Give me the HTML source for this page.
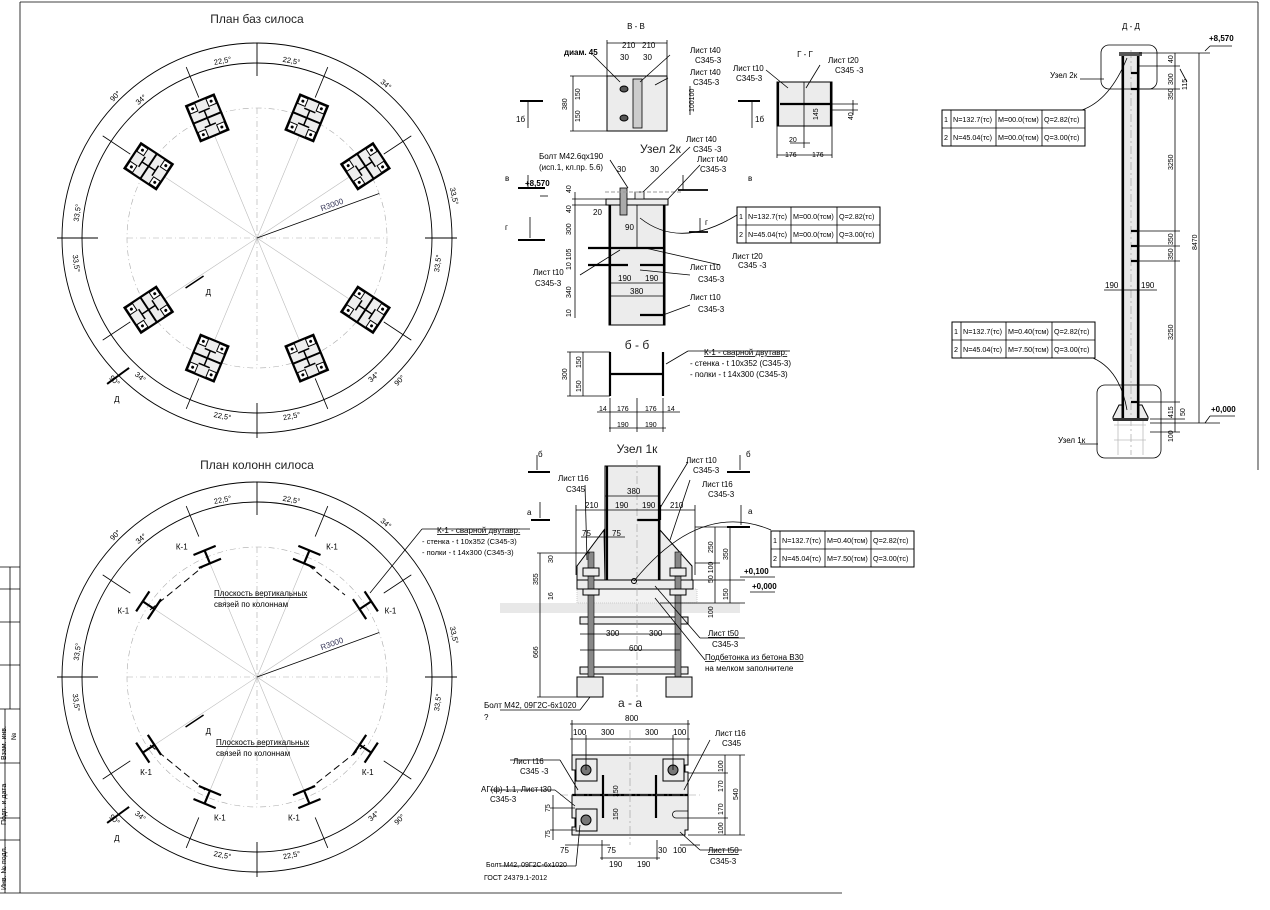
<!DOCTYPE html>
<html><head><meta charset="utf-8">
<style>
html,body{margin:0;padding:0;background:#fff;}
svg{display:block;font-family:"Liberation Sans","DejaVu Sans",sans-serif;}
.t{font-size:8px;fill:#000}
.s{font-size:7px;fill:#000}
.ti{font-size:12px;fill:#222}
.ln{stroke:#000;stroke-width:0.8;fill:none}
.tk{stroke:#000;stroke-width:2.2;fill:none}
.dd{stroke:#999;stroke-width:0.6;fill:none;stroke-dasharray:8 3 2 3}
.pl{fill:#ececec;stroke:#000;stroke-width:1}
</style></head><body>
<svg id="s" width="1270" height="910" viewBox="0 0 1270 910" xmlns="http://www.w3.org/2000/svg">
<line class="ln" x1="20" y1="2" x2="1258" y2="2"/>
<line class="ln" x1="1258" y1="2" x2="1258" y2="470"/>
<line class="ln" x1="20" y1="2" x2="20" y2="893" stroke-width="1.2"/>
<line class="ln" x1="0" y1="893" x2="842" y2="893" stroke-width="1.2"/>
<g class="ln">
<line x1="0" y1="567" x2="20" y2="567"/><line x1="0" y1="589" x2="20" y2="589"/>
<line x1="0" y1="622" x2="20" y2="622"/><line x1="0" y1="665" x2="20" y2="665"/>
<line x1="0" y1="709" x2="20" y2="709"/><line x1="0" y1="763" x2="20" y2="763"/>
<line x1="0" y1="818" x2="20" y2="818"/><line x1="0" y1="840" x2="20" y2="840"/>
<line x1="10" y1="567" x2="10" y2="709"/><line x1="5" y1="709" x2="5" y2="893"/>
</g>
<text class="s" transform="translate(6,760) rotate(-90)">Взам. инв.</text>
<text class="s" transform="translate(16,740) rotate(-90)">№</text>
<text class="s" transform="translate(6,825) rotate(-90)">Подп. и дата</text>
<text class="s" transform="translate(6,890) rotate(-90)">Инв. № подл.</text>

<text class="ti" x="257" y="23" text-anchor="middle">План баз силоса</text>
<text class="ti" x="257" y="469" text-anchor="middle">План колонн силоса</text>
<g id="plans"></g>

<text class="t" x="636" y="29" text-anchor="middle" font-size="10">В - В</text>
<rect class="pl" x="607" y="76" width="60" height="55"/>
<rect x="633" y="79" width="9" height="49" fill="#ccc" stroke="#000" stroke-width="0.8"/>
<ellipse cx="624" cy="89" rx="4" ry="3" fill="#555" stroke="#000"/>
<ellipse cx="624" cy="118" rx="4" ry="3" fill="#555" stroke="#000"/>
<g class="ln"><line x1="607" y1="43" x2="667" y2="43"/><line x1="607" y1="40" x2="607" y2="76"/><line x1="667" y1="40" x2="667" y2="76"/>
<line x1="573" y1="76" x2="573" y2="131"/><line x1="570" y1="76" x2="607" y2="76"/><line x1="570" y1="131" x2="607" y2="131"/>
<line x1="520" y1="101" x2="543" y2="101" stroke-width="2"/><line x1="528" y1="102" x2="528" y2="128"/>
<line x1="738" y1="101" x2="760" y2="101" stroke-width="2"/><line x1="752" y1="102" x2="752" y2="128"/>
<line x1="593" y1="55" x2="620" y2="82"/><line x1="670" y1="55" x2="640" y2="82"/><line x1="668" y1="78" x2="655" y2="85"/>
<line x1="690" y1="86" x2="690" y2="115"/>
</g>
<text class="t" x="622" y="48">210</text><text class="t" x="642" y="48">210</text>
<text class="t" x="620" y="60">30</text><text class="t" x="643" y="60">30</text>
<text class="t" x="564" y="55" font-weight="bold">диам. 45</text>
<text class="t" x="690" y="53">Лист t40</text><text class="t" x="695" y="63">С345-3</text>
<text class="t" x="690" y="75">Лист t40</text><text class="t" x="693" y="85">С345-3</text>
<text class="t" x="516" y="122">1б</text><text class="t" x="755" y="122">1б</text>
<text class="s" transform="translate(567,110) rotate(-90)">380</text>
<text class="s" transform="translate(580,100) rotate(-90)">150</text>
<text class="s" transform="translate(580,122) rotate(-90)">150</text>
<text class="s" transform="translate(694,112) rotate(-90)">100100</text>

<text class="t" x="805" y="57" text-anchor="middle" font-size="10">Г - Г</text>
<rect class="pl" x="777" y="82" width="55" height="44"/>
<line class="tk" x1="778" y1="82" x2="778" y2="126"/><line class="tk" x1="831" y1="82" x2="831" y2="126"/>
<line class="ln" x1="804" y1="82" x2="804" y2="126"/><line class="tk" x1="780" y1="104" x2="830" y2="104" stroke-width="1.5"/>
<g class="ln"><line x1="777" y1="155" x2="832" y2="155"/><line x1="777" y1="126" x2="777" y2="158"/><line x1="832" y1="126" x2="832" y2="158"/>
<line x1="804" y1="126" x2="804" y2="148"/><line x1="790" y1="143" x2="810" y2="143"/>
<line x1="832" y1="104" x2="858" y2="104"/><line x1="832" y1="110" x2="858" y2="110"/><line x1="853" y1="100" x2="853" y2="115"/>
<line x1="766" y1="70" x2="788" y2="88"/><line x1="820" y1="65" x2="806" y2="88"/></g>
<text class="t" x="733" y="71">Лист t10</text><text class="t" x="736" y="81">С345-3</text>
<text class="t" x="828" y="63">Лист t20</text><text class="t" x="835" y="73">С345 -3</text>
<text class="s" x="789" y="142">20</text><text class="s" x="785" y="157">176</text><text class="s" x="812" y="157">176</text>
<text class="s" transform="translate(818,120) rotate(-90)">145</text><text class="s" transform="translate(853,120) rotate(-90)">40</text>

<text class="ti" x="640" y="153" font-size="12">Узел 2к</text>
<rect class="pl" x="606" y="199" width="62" height="6"/>
<rect class="pl" x="609" y="205" width="56" height="120"/>
<line class="tk" x1="610" y1="205" x2="610" y2="325"/><line class="tk" x1="664" y1="205" x2="664" y2="325"/>
<line class="ln" x1="637" y1="205" x2="637" y2="248"/>
<line class="tk" x1="588" y1="248" x2="664" y2="248"/>
<line class="tk" x1="588" y1="265" x2="628" y2="265"/><line class="tk" x1="640" y1="265" x2="664" y2="265"/>
<line class="tk" x1="640" y1="315" x2="664" y2="315" stroke-width="1.8"/>
<rect x="620" y="188" width="7" height="27" fill="#aaa" stroke="#000" stroke-width="0.8"/>
<rect x="635" y="192" width="9" height="7" fill="#eee" stroke="#000" stroke-width="0.8"/>
<line x1="605" y1="192" x2="683" y2="192" stroke="#999" stroke-dasharray="4 2"/>
<g class="ln"><line x1="575" y1="192" x2="575" y2="318"/><line x1="572" y1="199" x2="606" y2="199"/><line x1="572" y1="205" x2="606" y2="205"/>
<line x1="609" y1="283" x2="664" y2="283"/><line x1="609" y1="296" x2="664" y2="296"/>
<line x1="540" y1="196" x2="548" y2="196"/>
<line x1="683" y1="175" x2="683" y2="190"/><line x1="678" y1="190" x2="708" y2="190" stroke-width="1.8"/>
<line x1="689" y1="232" x2="708" y2="232" stroke-width="1.8"/><line x1="700" y1="218" x2="700" y2="232"/>
<path d="M640 218 Q680 250 737 215"/>
<line x1="610" y1="160" x2="628" y2="188"/><line x1="690" y1="147" x2="643" y2="192"/><line x1="700" y1="165" x2="668" y2="199"/>
<line x1="580" y1="275" x2="620" y2="250"/><line x1="645" y1="248" x2="720" y2="265"/><line x1="640" y1="270" x2="690" y2="275"/>
<line x1="663" y1="315" x2="690" y2="305"/></g>
<g class="ln"><line x1="528" y1="175" x2="528" y2="188"/><line x1="518" y1="188" x2="545" y2="188" stroke-width="2"/>
<line x1="518" y1="240" x2="545" y2="240" stroke-width="2"/><line x1="530" y1="217" x2="530" y2="238"/></g>
<text class="t" x="539" y="159">Болт М42.6qх190</text><text class="t" x="539" y="170">(исп.1, кл.пр. 5.6)</text>
<text class="t" x="686" y="142">Лист t40</text><text class="t" x="693" y="152">С345 -3</text>
<text class="t" x="697" y="162">Лист t40</text><text class="t" x="700" y="172">С345-3</text>
<text class="t" x="525" y="186" font-weight="bold">+8,570</text>
<text class="t" x="505" y="181">в</text><text class="t" x="748" y="181">в</text>
<text class="t" x="505" y="230">г</text><text class="t" x="705" y="225">г</text>
<text class="t" x="617" y="172">30</text><text class="t" x="650" y="172">30</text>
<text class="t" x="593" y="215">20</text><text class="t" x="625" y="230">90</text>
<text class="t" x="618" y="281">190</text><text class="t" x="645" y="281">190</text><text class="t" x="630" y="294">380</text>
<text class="t" x="732" y="259">Лист t20</text><text class="t" x="738" y="268">С345 -3</text>
<text class="t" x="690" y="270">Лист t10</text><text class="t" x="698" y="282">С345-3</text>
<text class="t" x="533" y="275">Лист t10</text><text class="t" x="535" y="286">С345-3</text>
<text class="t" x="690" y="300">Лист t10</text><text class="t" x="698" y="312">С345-3</text>
<text class="s" transform="translate(571,193) rotate(-90)">40</text><text class="s" transform="translate(571,213) rotate(-90)">40</text>
<text class="s" transform="translate(571,235) rotate(-90)">300</text><text class="s" transform="translate(571,270) rotate(-90)">10 105</text>
<text class="s" transform="translate(571,298) rotate(-90)">340</text><text class="s" transform="translate(571,317) rotate(-90)">10</text>
<g id="t1"></g>

<text class="ti" x="637" y="349" text-anchor="middle">б - б</text>
<line class="tk" x1="610" y1="352" x2="610" y2="396"/><line class="tk" x1="663" y1="352" x2="663" y2="396"/>
<line class="tk" x1="611" y1="374" x2="662" y2="374" stroke-width="1.6"/>
<g class="ln"><line x1="570" y1="352" x2="570" y2="396"/><line x1="583" y1="352" x2="583" y2="396"/>
<line x1="567" y1="352" x2="610" y2="352"/><line x1="567" y1="396" x2="610" y2="396"/>
<line x1="597" y1="412" x2="680" y2="412"/><line x1="609" y1="428" x2="666" y2="428"/>
<line x1="610" y1="398" x2="610" y2="432"/><line x1="663" y1="398" x2="663" y2="432"/><line x1="637" y1="398" x2="637" y2="432"/>
<line x1="688" y1="351" x2="666" y2="364"/><line x1="688" y1="351" x2="790" y2="351"/></g>
<text class="t" x="704" y="355" text-decoration="underline">К-1 - сварной двутавр:</text>
<text class="t" x="690" y="366">- стенка - t 10х352 (С345-3)</text>
<text class="t" x="690" y="377">- полки - t 14х300 (С345-3)</text>
<text class="s" x="599" y="411">14</text><text class="s" x="617" y="411">176</text><text class="s" x="645" y="411">176</text><text class="s" x="667" y="411">14</text>
<text class="s" x="617" y="427">190</text><text class="s" x="645" y="427">190</text>
<text class="s" transform="translate(567,380) rotate(-90)">300</text><text class="s" transform="translate(581,368) rotate(-90)">150</text><text class="s" transform="translate(581,392) rotate(-90)">150</text>

<text class="ti" x="637" y="453" text-anchor="middle">Узел 1к</text>
<rect x="500" y="603" width="240" height="10" fill="#e8e8e8"/>
<rect x="577" y="589" width="120" height="14" fill="#f2f2f2" stroke="#ccc" stroke-dasharray="1 1"/>
<rect class="pl" x="605" y="466" width="55" height="115"/>
<line class="tk" x1="607" y1="466" x2="607" y2="581"/><line class="tk" x1="659" y1="466" x2="659" y2="581"/>
<line class="tk" x1="637" y1="520" x2="660" y2="520" stroke-width="2"/>
<line class="tk" x1="660" y1="505" x2="660" y2="520" stroke-width="1.5"/>
<polygon class="pl" points="577,581 577,566 604,530 605,581"/>
<polygon class="pl" points="660,530 692,566 692,581 660,581"/>
<rect class="pl" x="577" y="580" width="116" height="9"/>
<rect class="pl" x="580" y="617" width="108" height="7"/>
<rect class="pl" x="580" y="667" width="108" height="7"/>
<rect x="588" y="552" width="6" height="138" fill="#888" stroke="#000" stroke-width="0.6"/>
<rect x="675" y="552" width="6" height="138" fill="#888" stroke="#000" stroke-width="0.6"/>
<rect class="pl" x="583" y="568" width="16" height="8"/><rect class="pl" x="670" y="568" width="16" height="8"/>
<rect class="pl" x="583" y="589" width="16" height="6"/><rect class="pl" x="670" y="589" width="16" height="6"/>
<rect class="pl" x="577" y="677" width="26" height="20"/><rect class="pl" x="666" y="677" width="26" height="20"/>
<circle cx="634" cy="581" r="2.5" fill="none" stroke="#000"/>
<line class="dd" x1="637" y1="460" x2="637" y2="700"/>
<g class="ln"><line x1="540" y1="553" x2="540" y2="697"/><line x1="537" y1="553" x2="590" y2="553"/><line x1="537" y1="697" x2="580" y2="697"/>
<line x1="576" y1="510" x2="695" y2="510"/><line x1="576" y1="505" x2="576" y2="575"/><line x1="695" y1="505" x2="695" y2="575"/>
<line x1="605" y1="496" x2="660" y2="496"/>
<line x1="581" y1="537" x2="625" y2="537"/>
<line x1="580" y1="634" x2="680" y2="634"/><line x1="580" y1="650" x2="680" y2="650"/>
<line x1="715" y1="527" x2="715" y2="603"/><line x1="730" y1="527" x2="730" y2="603"/>
<line x1="695" y1="527" x2="735" y2="527"/><line x1="695" y1="563" x2="720" y2="563"/><line x1="693" y1="580" x2="745" y2="580"/><line x1="660" y1="603" x2="745" y2="603"/>
<path d="M634 581 Q700 500 771 530"/>
<line x1="585" y1="485" x2="587" y2="560"/><line x1="690" y1="480" x2="670" y2="540"/><line x1="688" y1="462" x2="660" y2="508"/>
<line x1="655" y1="586" x2="700" y2="638"/><line x1="700" y1="638" x2="745" y2="638"/>
<line x1="655" y1="598" x2="705" y2="660"/>
<line x1="580" y1="710" x2="590" y2="697"/><line x1="500" y1="710" x2="580" y2="710"/>
<line x1="531" y1="520" x2="550" y2="520" stroke-width="2"/><line x1="540" y1="502" x2="540" y2="518"/>
<line x1="528" y1="472" x2="550" y2="472" stroke-width="2"/><line x1="537" y1="455" x2="537" y2="470"/>
<line x1="727" y1="472" x2="750" y2="472" stroke-width="2"/><line x1="740" y1="455" x2="740" y2="470"/>
<line x1="727" y1="527" x2="750" y2="527" stroke-width="2"/><line x1="741" y1="505" x2="741" y2="525"/>
<line x1="740" y1="577" x2="775" y2="577"/><line x1="750" y1="592" x2="775" y2="592"/></g>
<text class="t" x="538" y="457">б</text><text class="t" x="746" y="457">б</text>
<text class="t" x="527" y="515">а</text><text class="t" x="748" y="514">а</text>
<text class="t" x="558" y="481">Лист t16</text><text class="t" x="566" y="492">С345</text>
<text class="t" x="686" y="463">Лист t10</text><text class="t" x="693" y="473">С345-3</text>
<text class="t" x="702" y="487">Лист t16</text><text class="t" x="708" y="497">С345-3</text>
<text class="t" x="627" y="494">380</text>
<text class="t" x="585" y="508">210</text><text class="t" x="615" y="508">190</text><text class="t" x="642" y="508">190</text><text class="t" x="670" y="508">210</text>
<text class="t" x="582" y="536">75</text><text class="t" x="612" y="536">75</text>
<text class="t" x="744" y="574" font-weight="bold">+0,100</text><text class="t" x="752" y="589" font-weight="bold">+0,000</text>
<text class="t" x="606" y="636">300</text><text class="t" x="649" y="636">300</text><text class="t" x="629" y="651">600</text>
<text class="t" x="708" y="636" text-decoration="underline">Лист t50</text><text class="t" x="712" y="647">С345-3</text>
<text class="t" x="705" y="660" text-decoration="underline">Подбетонка из бетона В30</text>
<text class="t" x="705" y="671">на мелком заполнителе</text>
<text class="t" x="484" y="708">Болт М42, 09Г2С-6х1020</text><text class="t" x="484" y="720">?</text>
<text class="s" transform="translate(538,585) rotate(-90)">355</text><text class="s" transform="translate(538,658) rotate(-90)">666</text>
<text class="s" transform="translate(553,563) rotate(-90)">30</text><text class="s" transform="translate(553,600) rotate(-90)">16</text>
<text class="s" transform="translate(713,553) rotate(-90)">250</text><text class="s" transform="translate(728,560) rotate(-90)">350</text>
<text class="s" transform="translate(713,583) rotate(-90)">50 100</text><text class="s" transform="translate(728,600) rotate(-90)">150</text>
<text class="s" transform="translate(713,618) rotate(-90)">100</text>
<g id="t2"></g>

<text class="ti" x="630" y="707" text-anchor="middle">а - а</text>
<path class="pl" d="M572 755 H688 V765 H685 V772 H688 V830 H685 V835 H572 V827 H575 V818 H572 V795 H575 V770 H572 Z"/>
<rect class="pl" x="576" y="759" width="21" height="22"/><rect class="pl" x="663" y="759" width="21" height="22"/>
<rect class="pl" x="576" y="809" width="21" height="22"/>
<path class="ln" d="M688 811 H676 A3 3 0 0 0 676 818 H688"/>
<circle cx="586" cy="770" r="5" fill="#777" stroke="#000"/><circle cx="673" cy="770" r="5" fill="#777" stroke="#000"/><circle cx="586" cy="820" r="5" fill="#777" stroke="#000"/>
<line class="tk" x1="572" y1="795" x2="688" y2="795" stroke-width="1.6"/>
<line class="tk" x1="603" y1="775" x2="603" y2="818" stroke-width="1.6"/><line class="tk" x1="656" y1="775" x2="656" y2="818" stroke-width="1.6"/>
<line class="dd" x1="630" y1="730" x2="630" y2="845"/><line class="dd" x1="560" y1="795" x2="700" y2="795"/>
<g class="ln"><line x1="570" y1="724" x2="690" y2="724"/><line x1="570" y1="739" x2="690" y2="739"/>
<line x1="572" y1="720" x2="572" y2="755"/><line x1="688" y1="720" x2="688" y2="755"/><line x1="586" y1="735" x2="586" y2="770"/><line x1="673" y1="735" x2="673" y2="770"/>
<line x1="740" y1="755" x2="740" y2="835"/><line x1="725" y1="755" x2="725" y2="835"/><line x1="688" y1="755" x2="745" y2="755"/><line x1="688" y1="835" x2="745" y2="835"/>
<line x1="688" y1="773" x2="728" y2="773"/><line x1="688" y1="818" x2="728" y2="818"/>
<line x1="600" y1="858" x2="660" y2="858"/><line x1="602" y1="840" x2="602" y2="860"/><line x1="657" y1="840" x2="657" y2="860"/>
<line x1="565" y1="845" x2="610" y2="845"/><line x1="680" y1="845" x2="700" y2="845"/>
<line x1="550" y1="808" x2="575" y2="808"/><line x1="550" y1="830" x2="575" y2="830"/><line x1="553" y1="795" x2="553" y2="840"/>
<line x1="710" y1="740" x2="684" y2="790"/><line x1="510" y1="760" x2="560" y2="760"/><line x1="560" y1="760" x2="578" y2="790"/>
<line x1="490" y1="790" x2="555" y2="790"/><line x1="555" y1="790" x2="575" y2="806"/>
<line x1="680" y1="832" x2="700" y2="850"/><line x1="700" y1="850" x2="742" y2="850"/>
<line x1="500" y1="866" x2="576" y2="866"/><line x1="576" y1="866" x2="580" y2="825"/></g>
<text class="t" x="625" y="721">800</text>
<text class="t" x="573" y="735">100</text><text class="t" x="601" y="735">300</text><text class="t" x="645" y="735">300</text><text class="t" x="673" y="735">100</text>
<text class="t" x="715" y="736">Лист t16</text><text class="t" x="722" y="746">С345</text>
<text class="t" x="513" y="764">Лист t16</text><text class="t" x="520" y="774">С345 -3</text>
<text class="t" x="481" y="792">АГ(ф)-1.1, Лист t30</text><text class="t" x="490" y="802">С345-3</text>
<text class="t" x="560" y="853">75</text><text class="t" x="607" y="853">75</text><text class="t" x="658" y="853">30</text><text class="t" x="673" y="853">100</text>
<text class="t" x="609" y="867">190</text><text class="t" x="637" y="867">190</text>
<text class="t" x="708" y="853" text-decoration="underline">Лист t50</text><text class="t" x="710" y="864">С345-3</text>
<text class="s" x="486" y="867">Болт М42, 09Г2С-6х1020</text><text class="s" x="484" y="880">ГОСТ 24379.1-2012</text>
<text class="s" transform="translate(738,800) rotate(-90)">540</text>
<text class="s" transform="translate(723,772) rotate(-90)">100</text><text class="s" transform="translate(723,792) rotate(-90)">170</text>
<text class="s" transform="translate(723,815) rotate(-90)">170</text><text class="s" transform="translate(723,834) rotate(-90)">100</text>
<text class="s" transform="translate(550,812) rotate(-90)">75</text><text class="s" transform="translate(550,838) rotate(-90)">75</text>
<text class="s" transform="translate(618,797) rotate(-90)">150</text><text class="s" transform="translate(618,820) rotate(-90)">150</text>

<text class="t" x="1131" y="29" text-anchor="middle" font-size="10">Д - Д</text>
<rect x="1122" y="53" width="17" height="367" fill="#e8e8e8" stroke="#000" stroke-width="1"/>
<line class="tk" x1="1123" y1="53" x2="1123" y2="420" stroke-width="1.5"/><line class="tk" x1="1138" y1="53" x2="1138" y2="420" stroke-width="1.5"/>
<line class="dd" x1="1131" y1="50" x2="1131" y2="455"/>
<rect x="1119" y="52" width="23" height="4" fill="#555"/>
<rect class="ln" x="1101" y="45" width="56" height="44" rx="8"/>
<rect class="ln" x="1097" y="385" width="64" height="73" rx="8"/>
<polygon class="pl" points="1113,417 1119,405 1122,405 1122,419 1113,419"/>
<polygon class="pl" points="1139,405 1142,405 1148,417 1148,419 1139,419"/>
<rect x="1113" y="418" width="35" height="3" fill="#333"/>
<g stroke="#bbb" stroke-width="0.8" fill="none"><line x1="1114" y1="425" x2="1146" y2="425"/><line x1="1118" y1="421" x2="1118" y2="455"/><line x1="1143" y1="421" x2="1143" y2="455"/><line x1="1114" y1="440" x2="1146" y2="440"/></g>
<g class="tk" stroke-width="1.3"><line x1="1131" y1="73" x2="1139" y2="73"/><line x1="1131" y1="89" x2="1139" y2="89"/><line x1="1131" y1="231" x2="1139" y2="231"/><line x1="1131" y1="246" x2="1139" y2="246"/><line x1="1131" y1="261" x2="1139" y2="261"/><line x1="1131" y1="402" x2="1139" y2="402"/></g>
<g class="ln"><line x1="1175" y1="53" x2="1175" y2="432"/><line x1="1199" y1="53" x2="1199" y2="423"/>
<line x1="1139" y1="53" x2="1210" y2="53"/><line x1="1139" y1="66" x2="1180" y2="66"/><line x1="1139" y1="89" x2="1180" y2="89"/>
<line x1="1139" y1="231" x2="1180" y2="231"/><line x1="1139" y1="246" x2="1180" y2="246"/><line x1="1139" y1="261" x2="1180" y2="261"/>
<line x1="1139" y1="402" x2="1180" y2="402"/><line x1="1150" y1="419" x2="1185" y2="419"/><line x1="1150" y1="423" x2="1220" y2="423"/><line x1="1150" y1="432" x2="1180" y2="432"/>
<line x1="1205" y1="51" x2="1210" y2="46"/><line x1="1210" y1="46" x2="1232" y2="46"/>
<line x1="1205" y1="423" x2="1210" y2="416"/><line x1="1210" y1="416" x2="1235" y2="416"/>
<line x1="1104" y1="290" x2="1157" y2="290"/><line x1="1104" y1="79" x2="1080" y2="79"/><line x1="1098" y1="444" x2="1080" y2="444"/>
<path d="M1127 58 Q1110 100 1082 110"/><path d="M1093 358 Q1120 370 1127 410"/>
<line x1="1180" y1="69" x2="1187" y2="82"/></g>
<text class="t" x="1209" y="41" font-weight="bold">+8,570</text><text class="t" x="1211" y="412" font-weight="bold">+0,000</text>
<text class="t" x="1050" y="78">Узел 2к</text><text class="t" x="1058" y="443">Узел 1к</text>
<text class="t" x="1105" y="288">190</text><text class="t" x="1141" y="288">190</text>
<text class="s" transform="translate(1173,63) rotate(-90)">40</text><text class="s" transform="translate(1173,85) rotate(-90)">300</text>
<text class="s" transform="translate(1187,90) rotate(-90)">115</text><text class="s" transform="translate(1173,100) rotate(-90)">350</text>
<text class="s" transform="translate(1173,170) rotate(-90)">3250</text><text class="s" transform="translate(1173,245) rotate(-90)">350</text>
<text class="s" transform="translate(1173,260) rotate(-90)">350</text><text class="s" transform="translate(1173,340) rotate(-90)">3250</text>
<text class="s" transform="translate(1173,418) rotate(-90)">415</text><text class="s" transform="translate(1185,416) rotate(-90)">50</text>
<text class="s" transform="translate(1173,442) rotate(-90)">100</text><text class="s" transform="translate(1197,250) rotate(-90)">8470</text>
<g id="t3"></g>
</svg>
<script>
var NS="http://www.w3.org/2000/svg";
function add(parent,html){var g=document.createElementNS(NS,"g");g.innerHTML=html;parent.appendChild(g);}
function table(x,y,rows){var w=[9,45,46,43],h=18,s='';var tw=w.reduce((a,b)=>a+b);
s+='<rect x="'+x+'" y="'+y+'" width="'+tw+'" height="'+(2*h)+'" fill="#fff" stroke="#000" stroke-width="1"/>';
s+='<line x1="'+x+'" y1="'+(y+h)+'" x2="'+(x+tw)+'" y2="'+(y+h)+'" stroke="#000" stroke-width="0.8"/>';
var cx=x;for(var i=0;i<3;i++){cx+=w[i];s+='<line x1="'+cx+'" y1="'+y+'" x2="'+cx+'" y2="'+(y+2*h)+'" stroke="#000" stroke-width="0.8"/>';}
for(var r=0;r<2;r++){cx=x;for(var c=0;c<4;c++){s+='<text x="'+(cx+2)+'" y="'+(y+r*h+12)+'" font-size="7.2">'+rows[r][c]+'</text>';cx+=w[c];}}
return s;}
add(document.getElementById("t1"),table(737,207,[["1","N=132.7(тс)","M=00.0(тсм)","Q=2.82(тс)"],["2","N=45.04(тс)","M=00.0(тсм)","Q=3.00(тс)"]]));
add(document.getElementById("t2"),table(771,531,[["1","N=132.7(тс)","M=0.40(тсм)","Q=2.82(тс)"],["2","N=45.04(тс)","M=7.50(тсм)","Q=3.00(тс)"]]));
add(document.getElementById("t3"),table(942,110,[["1","N=132.7(тс)","M=00.0(тсм)","Q=2.82(тс)"],["2","N=45.04(тс)","M=00.0(тсм)","Q=3.00(тс)"]])+table(952,322,[["1","N=132.7(тс)","M=0.40(тсм)","Q=2.82(тс)"],["2","N=45.04(тс)","M=7.50(тсм)","Q=3.00(тс)"]]));

function plan(cx,cy,base){
 var s='',R1=195,R2=175,R3=130,ang=[-22.5,22.5,-56.5,56.5,-123.5,123.5,-157.5,157.5];
 function P(r,a){var t=a*Math.PI/180;return [cx+r*Math.sin(t),cy-r*Math.cos(t)];}
 s+='<circle cx="'+cx+'" cy="'+cy+'" r="'+R1+'" fill="none" stroke="#000" stroke-width="0.9"/>';
 s+='<circle cx="'+cx+'" cy="'+cy+'" r="'+R2+'" fill="none" stroke="#000" stroke-width="0.9"/>';
 s+='<circle cx="'+cx+'" cy="'+cy+'" r="'+R3+'" fill="none" stroke="#aaa" stroke-width="0.6" stroke-dasharray="6 3 1 3"/>';
 s+='<line x1="'+(cx-R1-5)+'" y1="'+cy+'" x2="'+(cx-159)+'" y2="'+cy+'" stroke="#000" stroke-width="0.9"/>';
 s+='<line x1="'+(cx+168)+'" y1="'+cy+'" x2="'+(cx+R1+5)+'" y2="'+cy+'" stroke="#000" stroke-width="0.9"/>';
 s+='<line x1="'+cx+'" y1="'+(cy-R1)+'" x2="'+cx+'" y2="'+(cy-R2+13)+'" stroke="#000" stroke-width="0.9"/>';
 s+='<line x1="'+cx+'" y1="'+(cy+R2-10)+'" x2="'+cx+'" y2="'+(cy+R1+5)+'" stroke="#000" stroke-width="0.9"/>';
 s+='<line x1="'+(cx-R3)+'" y1="'+cy+'" x2="'+(cx+R3)+'" y2="'+cy+'" stroke="#aaa" stroke-width="0.6" stroke-dasharray="6 3 1 3"/>';
 s+='<line x1="'+cx+'" y1="'+(cy-R3)+'" x2="'+cx+'" y2="'+(cy+R3)+'" stroke="#aaa" stroke-width="0.6" stroke-dasharray="6 3 1 3"/>';
 ang.forEach(function(a){var p=P(R3,a),q=P(0,a),o=P(R2+10,a),i=P(R3+22,a);
  s+='<line x1="'+q[0]+'" y1="'+q[1]+'" x2="'+p[0]+'" y2="'+p[1]+'" stroke="#bbb" stroke-width="0.6"/>';
  s+='<line x1="'+o[0]+'" y1="'+o[1]+'" x2="'+i[0]+'" y2="'+i[1]+'" stroke="#000" stroke-width="0.8"/>';
  if(base){
   s+='<g transform="translate('+p[0]+','+p[1]+') rotate('+a+')"><rect x="-15" y="-19" width="30" height="38" fill="#eee" stroke="#000" stroke-width="2.2"/>'+
   '<rect x="-14" y="-18" width="8" height="8" fill="#fff" stroke="#000"/><rect x="6" y="-18" width="8" height="8" fill="#fff" stroke="#000"/><rect x="-14" y="10" width="8" height="8" fill="#fff" stroke="#000"/><rect x="6" y="10" width="8" height="8" fill="#fff" stroke="#000"/>'+
   '<circle cx="-10" cy="-14" r="1.5" fill="#000"/><circle cx="10" cy="-14" r="1.5" fill="#000"/><circle cx="-10" cy="14" r="1.5" fill="#000"/><circle cx="10" cy="14" r="1.5" fill="#000"/>'+
   '<line x1="-15" y1="0" x2="15" y2="0" stroke="#000" stroke-width="2"/><line x1="0" y1="-8" x2="0" y2="8" stroke="#000" stroke-width="1.5"/><line x1="-6" y1="-8" x2="6" y2="-8" stroke="#000" stroke-width="1.5"/><line x1="-6" y1="8" x2="6" y2="8" stroke="#000" stroke-width="1.5"/></g>';
  }else{
   s+='<g transform="translate('+p[0]+','+p[1]+') rotate('+a+')" stroke="#000" stroke-width="2.2"><line x1="-12" y1="-7" x2="12" y2="-7"/><line x1="-12" y1="7" x2="12" y2="7"/><line x1="0" y1="-7" x2="0" y2="7"/></g>';
   var l=P(R3+18,a+(a>0?8:-8));s+='<text x="'+(l[0]-6)+'" y="'+l[1]+'" font-size="8">К-1</text>';
  }
 });
 var labs=[[-11,R2+6,"22,5°"],[11,R2+6,"22,5°"],[-169,R2+6,"22,5°"],[169,R2+6,"22,5°"],[-40,R2+6,"34°"],[40,R1+6,"34°"],[-140,R2+6,"34°"],[140,R2+6,"34°"],[-90+8,R2+7,"33,5°"],[-98,R2+7,"33,5°"],[78,R1+7,"33,5°"],[98,R2+7,"33,5°"],[-45,R1+6,"90°"],[-135,R1+6,"90°"],[135,R1+6,"90°"]];
 labs.forEach(function(L){var p=P(L[1],L[0]);var r=L[0];if(Math.abs(r)>90)r=r-180*Math.sign(r);
  s+='<text x="'+p[0]+'" y="'+(p[1]+3)+'" font-size="7.5" text-anchor="middle" transform="rotate('+r+','+p[0]+','+p[1]+')">'+L[2]+'</text>';});
 var e=P(R3,70);s+='<line x1="'+cx+'" y1="'+cy+'" x2="'+e[0]+'" y2="'+e[1]+'" stroke="#000" stroke-width="0.8"/>';
 var m=P(70,70);s+='<text x="'+m[0]+'" y="'+(m[1]-3)+'" font-size="8" fill="#335" transform="rotate(-20,'+m[0]+','+m[1]+')">R3000</text>';
 var d=P(R1,-135);s+='<line x1="'+(d[0]-12)+'" y1="'+(d[1]+8)+'" x2="'+(d[0]+10)+'" y2="'+(d[1]-8)+'" stroke="#000" stroke-width="2"/><text x="'+(d[0]-5)+'" y="'+(d[1]+26)+'" font-size="8">Д</text>';
 var k=P(75,-125);s+='<line x1="'+(k[0]-10)+'" y1="'+(k[1]+7)+'" x2="'+(k[0]+8)+'" y2="'+(k[1]-5)+'" stroke="#000" stroke-width="1.5"/><text x="'+(k[0]+10)+'" y="'+(k[1]+14)+'" font-size="8">Д</text>';
 return s;}
add(document.getElementById("plans"),plan(257,238,true)+plan(257,677,false));
var g2='';
g2+='<g stroke="#000" stroke-width="1" stroke-dasharray="7 4" fill="none"><line x1="150" y1="610" x2="205" y2="565"/><line x1="308" y1="565" x2="345" y2="595"/><line x1="150" y1="745" x2="205" y2="790"/><line x1="308" y1="790" x2="365" y2="745"/></g>';
g2+='<text x="214" y="596" font-size="8" text-decoration="underline">Плоскость вертикальных</text><text x="214" y="607" font-size="8">связей по колоннам</text>';
g2+='<text x="216" y="745" font-size="8" text-decoration="underline">Плоскость вертикальных</text><text x="216" y="756" font-size="8">связей по колоннам</text>';
g2+='<line x1="422" y1="529" x2="530" y2="529" stroke="#000" stroke-width="0.8"/><line x1="422" y1="529" x2="370" y2="593" stroke="#000" stroke-width="0.8"/>';
g2+='<text x="437" y="533" font-size="8" text-decoration="underline">К-1 - сварной двутавр:</text><text x="422" y="544" font-size="7.5">- стенка - t 10х352 (С345-3)</text><text x="422" y="555" font-size="7.5">- полки - t 14х300 (С345-3)</text>';
add(document.getElementById("plans"),g2);
</script>
</body></html>
